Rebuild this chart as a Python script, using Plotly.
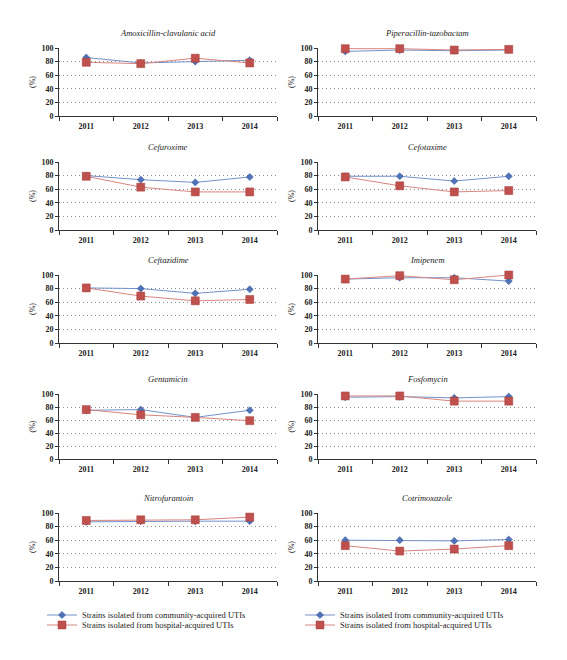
import plotly.graph_objects as go

years = ["2011", "2012", "2013", "2014"]

antibiotics = [
    "Amoxicillin-clavulanic acid", "Piperacillin-tazobactam",
    "Cefuroxime", "Cefotaxime",
    "Ceftazidime", "Imipenem",
    "Gentamicin", "Fosfomycin",
    "Nitrofurantoin", "Cotrimoxazole",
]

# community-acquired (blue diamonds)
amox_comm = [86, 78, 80, 82]
pip_comm = [95, 97, 96, 97]
cefur_comm = [80, 74, 70, 78]
cefot_comm = [79, 79, 72, 79]
cefta_comm = [81, 80, 73, 79]
imi_comm = [94, 96, 96, 91]
genta_comm = [75, 76, 64, 75]
fosfo_comm = [95, 96, 94, 96]
nitro_comm = [87, 88, 88, 88]
cotri_comm = [60, 60, 59, 61]

# hospital-acquired (red squares)
amox_hosp = [79, 77, 85, 78]
pip_hosp = [99, 99, 97, 98]
cefur_hosp = [79, 63, 56, 56]
cefot_hosp = [78, 65, 56, 58]
cefta_hosp = [81, 69, 62, 64]
imi_hosp = [94, 99, 93, 100]
genta_hosp = [76, 68, 64, 59]
fosfo_hosp = [97, 97, 89, 89]
nitro_hosp = [89, 90, 90, 94]
cotri_hosp = [52, 44, 47, 52]

community = [amox_comm, pip_comm, cefur_comm, cefot_comm, cefta_comm,
             imi_comm, genta_comm, fosfo_comm, nitro_comm, cotri_comm]
hospital = [amox_hosp, pip_hosp, cefur_hosp, cefot_hosp, cefta_hosp,
            imi_hosp, genta_hosp, fosfo_hosp, nitro_hosp, cotri_hosp]

name_comm = "Strains isolated from community-acquired UTIs"
name_hosp = "Strains isolated from hospital-acquired UTIs"

W, H = 567, 660
FONT = "Liberation Serif, Times New Roman, Tinos, DejaVu Serif, serif"
col_x = [(59, 277), (318, 536)]
row_y = [(48, 116), (162, 230), (275, 343), (394, 459), (513, 581)]

fig = go.Figure()
layout = {}
annotations = []

for i, ab in enumerate(antibiotics):
    r, c = i // 2, i % 2
    k = i + 1
    xs = "" if k == 1 else str(k)
    x0, x1 = col_x[c]
    yt, yb = row_y[r]
    leg_c = "legend" if c == 0 else "legend2"
    leg_h = "legend3" if c == 0 else "legend4"
    fig.add_trace(go.Scatter(
        x=years, y=community[i], name=name_comm, mode="lines+markers",
        xaxis="x" + xs, yaxis="y" + xs, legend=leg_c,
        showlegend=(r == 0), cliponaxis=False,
        line=dict(color="#7491CC", width=1),
        marker=dict(symbol="diamond", size=5.5, color="#4F72B8",
                    line=dict(color="#3C5A96", width=0.5)),
    ))
    fig.add_trace(go.Scatter(
        x=years, y=hospital[i], name=name_hosp, mode="lines+markers",
        xaxis="x" + xs, yaxis="y" + xs, legend=leg_h,
        showlegend=(r == 0), cliponaxis=False,
        line=dict(color="#D8857F", width=1),
        marker=dict(symbol="square", size=8, color="#C0504D",
                    line=dict(color="#A03C39", width=0.5)),
    ))
    layout["xaxis" + xs] = dict(
        domain=[x0 / W, x1 / W], anchor="y" + xs, type="category",
        categoryorder="array", categoryarray=years, range=[-0.5, 3.5],
        tickson="boundaries", ticks="outside", ticklen=4, tickcolor="#333",
        showline=True, linecolor="#333", linewidth=1, showgrid=False,
        zeroline=False, fixedrange=True, automargin=False,
        ticklabelstandoff=2,
        tickfont=dict(family=FONT, size=8, color="#222", weight="bold"),
    )
    layout["yaxis" + xs] = dict(
        domain=[1 - yb / H, 1 - yt / H], anchor="x" + xs, range=[0, 100],
        dtick=20, tick0=0, ticks="outside", ticklen=3, tickcolor="#333",
        showline=True, linecolor="#333", linewidth=1,
        showgrid=True, gridcolor="#8C8C8C", griddash="1px,3px", gridwidth=1,
        zeroline=False, fixedrange=True, automargin=False,
        tickfont=dict(family=FONT, size=8, color="#222", weight="bold"),
        title=dict(text="(%)", standoff=4,
                   font=dict(family=FONT, size=8, color="#222")),
    )
    annotations.append(dict(
        text="<i>" + ab + "</i>", xref="paper", yref="paper",
        x=(x0 + x1) / 2 / W, y=1 - (yt - 15) / H,
        xanchor="center", yanchor="middle", showarrow=False,
        font=dict(family=FONT, size=8.5, color="#222"),
    ))

legend_x = {"legend": 42, "legend2": 300, "legend3": 42, "legend4": 300}
legend_y = {"legend": 615, "legend2": 615, "legend3": 625, "legend4": 625}
for name in legend_x:
    layout[name] = dict(
        x=legend_x[name] / W, y=1 - legend_y[name] / H,
        xanchor="left", yanchor="middle",
        font=dict(family=FONT, size=8.5, color="#222"),
        bgcolor="rgba(0,0,0,0)", tracegroupgap=0, itemwidth=30,
    )

fig.update_layout(
    width=W, height=H, margin=dict(l=0, r=0, t=0, b=0, autoexpand=False),
    paper_bgcolor="white", plot_bgcolor="white",
    annotations=annotations, **layout,
)

fig.write_html(
    "out.html",
    config={"displayModeBar": False},
    post_script="document.body.style.margin='0';document.body.style.overflow='hidden';",
)
